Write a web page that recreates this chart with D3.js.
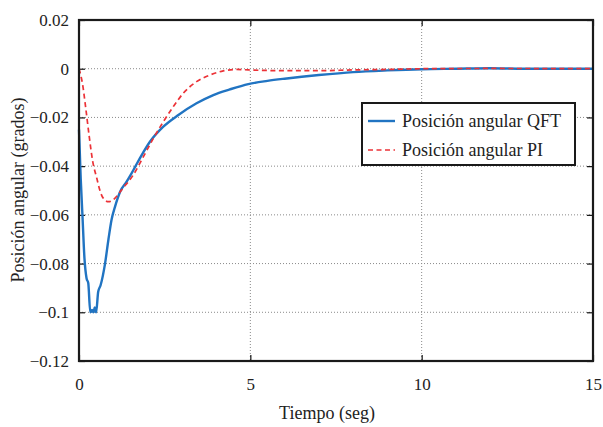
<!DOCTYPE html>
<html>
<head>
<meta charset="utf-8">
<script src="https://cdn.jsdelivr.net/npm/d3@7"></script>
<style>
  body { margin: 0; background: #fff; }
  svg { display: block; }
  svg text { font-family: "Liberation Serif", "Times New Roman", Times, "DejaVu Serif", serif; }
</style>
</head>
<body>
<svg id="chart" width="603" height="427"></svg>
<script>
// time samples (seg) and angular position (grados)
const qftTime = [0, 0.05, 0.1, 0.16, 0.22, 0.27, 0.33, 0.38, 0.42, 0.46, 0.5, 0.56, 0.63, 0.76, 0.86, 0.95, 1.05, 1.2, 1.39, 1.5, 1.65, 1.8, 2.07, 2.46, 2.9, 3.43, 3.92, 4.4, 4.94, 5.5, 6.0, 6.5, 7.0, 8.0, 9.0, 10.0, 11.0, 12.0, 13.0, 15.0];
const qftValues = [-0.025, -0.045, -0.06, -0.078, -0.086, -0.088, -0.1, -0.099, -0.1, -0.098, -0.1, -0.0916, -0.0889, -0.08, -0.07, -0.062, -0.0567, -0.0505, -0.0464, -0.0438, -0.04, -0.0362, -0.03, -0.0238, -0.019, -0.0142, -0.0108, -0.0085, -0.0063, -0.005, -0.0041, -0.0033, -0.0026, -0.0014, -0.0007, -0.0002, 0, 0.0002, 0, 0];

const piTime = [0, 0.1, 0.2, 0.3, 0.4, 0.52, 0.6, 0.7, 0.86, 1.0, 1.15, 1.3, 1.44, 1.58, 1.88, 2.17, 2.46, 2.75, 3.04, 3.43, 3.82, 4.21, 4.6, 4.94, 6.0, 7.0, 8.0, 9.0, 10.0, 12.0, 15.0];
const piValues = [0, -0.006, -0.0165, -0.028, -0.038, -0.045, -0.0495, -0.053, -0.0546, -0.0538, -0.0515, -0.0487, -0.0464, -0.0437, -0.0361, -0.0286, -0.0218, -0.0156, -0.0101, -0.0053, -0.0026, -0.0009, -0.0003, -0.0005, -0.0008, -0.0008, -0.0005, -0.0003, 0, 0.0001, 0];

const xTicks = [0, 5, 10, 15];
const yTicks = [0.02, 0, -0.02, -0.04, -0.06, -0.08, -0.1, -0.12];
const seriesNames = ['Posición angular QFT', 'Posición angular PI'];

const MARGIN = { top: 20, right: 10, bottom: 66, left: 79 };
const WIDTH = 603 - MARGIN.left - MARGIN.right;
const HEIGHT = 427 - MARGIN.top - MARGIN.bottom;

const BLUE = '#2174c2';
const RED = '#ec3237';
const TEXT_COLOR = '#222';
const FONT = '"Liberation Serif", "Times New Roman", Times, serif';

const svg = d3.select('#chart');
const g = svg.append('g').attr('transform', `translate(${MARGIN.left},${MARGIN.top})`);

const x = d3.scaleLinear().domain([0, 15]).range([0, WIDTH]);
const y = d3.scaleLinear().domain([-0.12, 0.02]).range([HEIGHT, 0]);

const fmtY = d => d === 0 ? '0' : d3.format('')(d).replace('-', '\u2212');

// grid
g.append('g').selectAll('line')
    .data(xTicks.slice(1, -1)).enter().append('line')
    .attr('x1', d => x(d)).attr('x2', d => x(d))
    .attr('y1', 0).attr('y2', HEIGHT)
    .attr('stroke', '#8a8a8a').attr('stroke-width', 1).attr('stroke-dasharray', '1,2');
g.append('g').selectAll('line')
    .data(yTicks.slice(1, -1)).enter().append('line')
    .attr('x1', 0).attr('x2', WIDTH)
    .attr('y1', d => y(d)).attr('y2', d => y(d))
    .attr('stroke', '#8a8a8a').attr('stroke-width', 1).attr('stroke-dasharray', '1,2');

// axes with inward ticks
g.append('g').attr('transform', `translate(0,${HEIGHT})`)
    .call(d3.axisBottom(x).tickValues(xTicks).tickSize(-6).tickPadding(17).tickFormat(d3.format('d')));
g.append('g')
    .call(d3.axisTop(x).tickValues(xTicks).tickSize(-6).tickFormat(''));
g.append('g')
    .call(d3.axisLeft(y).tickValues(yTicks).tickSize(-6).tickPadding(10).tickFormat(fmtY));
g.append('g').attr('transform', `translate(${WIDTH},0)`)
    .call(d3.axisRight(y).tickValues(yTicks).tickSize(-6).tickFormat(''));

g.selectAll('.domain').remove();
g.selectAll('g').attr('font-family', FONT);
g.selectAll('.tick line').attr('stroke', '#111').attr('stroke-width', 1.2);
g.selectAll('.tick text')
    .style('font-family', FONT)
    .style('font-size', '17px')
    .attr('fill', TEXT_COLOR);

// lines
const qftData = qftTime.map((t, i) => [t, qftValues[i]]);
const piData = piTime.map((t, i) => [t, piValues[i]]);

const line = d3.line().x(d => x(d[0])).y(d => y(d[1])).curve(d3.curveMonotoneX);

g.append('path').datum(qftData)
    .attr('d', line)
    .attr('fill', 'none').attr('stroke', BLUE).attr('stroke-width', 2.4)
    .attr('stroke-linejoin', 'round');

g.append('path').datum(piData)
    .attr('d', line)
    .attr('fill', 'none').attr('stroke', RED).attr('stroke-width', 1.7)
    .attr('stroke-dasharray', '5,3.5');

// frame
g.append('rect')
    .attr('x', 0).attr('y', 0).attr('width', WIDTH).attr('height', HEIGHT)
    .attr('fill', 'none').attr('stroke', '#1a1a1a').attr('stroke-width', 2.2);

// legend
const legend = svg.append('g').attr('transform', 'translate(362,103)');
legend.append('rect')
    .attr('width', 213).attr('height', 62)
    .attr('fill', '#fff').attr('stroke', '#1a1a1a').attr('stroke-width', 2);
const legendItems = [
    { name: seriesNames[0], color: BLUE, width: 2.4, dash: null },
    { name: seriesNames[1], color: RED, width: 1.7, dash: '5,3.5' }
];
legendItems.forEach((d, i) => {
    const yy = 18 + i * 29;
    legend.append('line')
        .attr('x1', 6).attr('x2', 33).attr('y1', yy).attr('y2', yy)
        .attr('stroke', d.color).attr('stroke-width', d.width)
        .attr('stroke-dasharray', d.dash);
    legend.append('text')
        .attr('x', 40).attr('y', yy + 6)
        .style('font-size', '18px')
        .attr('fill', TEXT_COLOR)
        .text(d.name);
});

// axis labels
svg.append('text')
    .attr('x', 327).attr('y', 419)
    .attr('text-anchor', 'middle')
    .style('font-size', '18px')
    .attr('fill', TEXT_COLOR)
    .text('Tiempo (seg)');

svg.append('text')
    .attr('transform', 'rotate(-90)')
    .attr('x', -190).attr('y', 24)
    .attr('text-anchor', 'middle')
    .style('font-size', '18px')
    .attr('fill', TEXT_COLOR)
    .text('Posición angular (grados)');
</script>
</body>
</html>
